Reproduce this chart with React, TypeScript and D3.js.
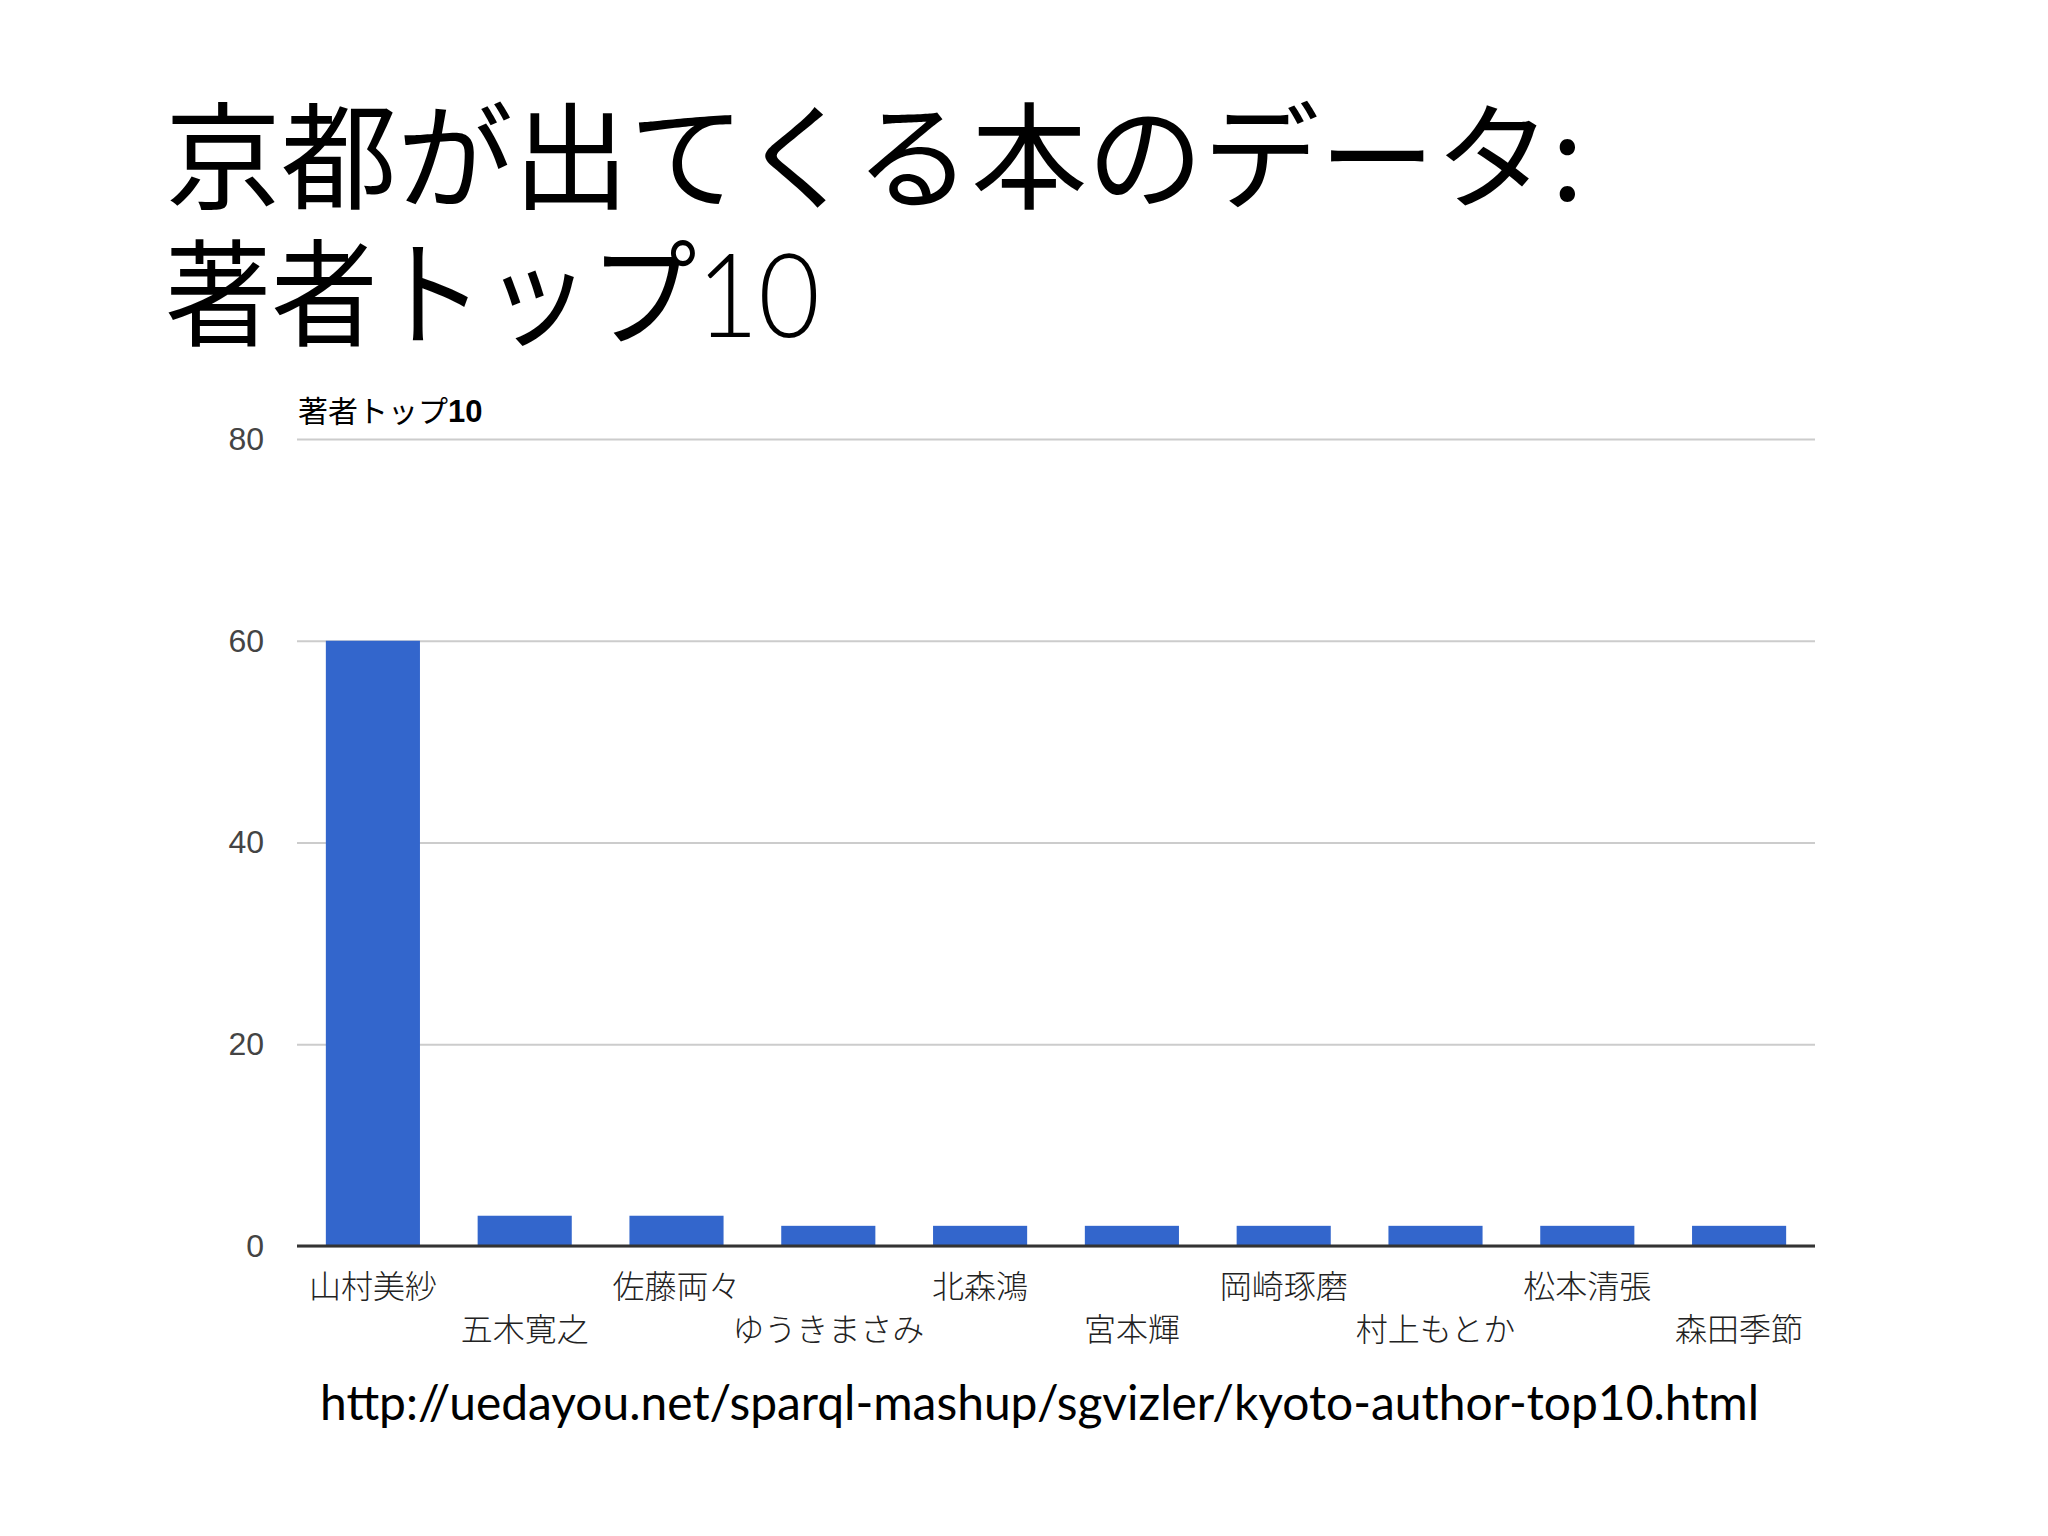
import * as d3 from "d3";
import { useEffect, useRef } from "react";

const authors = [
  "山村美紗",
  "五木寛之",
  "佐藤両々",
  "ゆうきまさみ",
  "北森鴻",
  "宮本輝",
  "岡崎琢磨",
  "村上もとか",
  "松本清張",
  "森田季節",
];
const bookCounts = [60, 3, 3, 2, 2, 2, 2, 2, 2, 2];
const yTicks = [0, 20, 40, 60, 80];

const titleLines = ["京都が出てくる本のデータ:", "著者トップ"];
const sourceUrl = "http://uedayou.net/sparql-mashup/sgvizler/kyoto-author-top10.html";

const COLORS = {
  bar: "#3366cc",
  grid: "#cccccc",
  axis: "#333333",
  tick: "#444444",
  label: "#222222",
  text: "#000000",
};

const WIDTH = 2048;
const HEIGHT = 1536;
const margin = { top: 439, right: 233, bottom: 290, left: 297 };

function renderTitle(svg: d3.Selection<SVGSVGElement, unknown, null, undefined>) {
  const font = "'Noto Sans CJK JP', 'Noto Sans', sans-serif";
  svg
    .append("text")
    .attr("x", 165)
    .attr("y", 200)
    .attr("font-family", font)
    .attr("font-size", 116)
    .attr("fill", COLORS.text)
    .text(titleLines[0]);

  // second line is narrower in the slide, squeeze it to the same width
  const line2 = svg
    .append("text")
    .attr("x", 165)
    .attr("y", 337)
    .attr("font-family", font)
    .attr("font-size", 116)
    .attr("textLength", 655)
    .attr("lengthAdjust", "spacingAndGlyphs")
    .attr("fill", COLORS.text);
  line2.append("tspan").text(titleLines[1]);
  line2
    .append("tspan")
    .attr("font-family", "Lato, 'Noto Sans', sans-serif")
    .attr("font-weight", 300)
    .attr("font-size", 116)
    .text("10");
}

export default function App() {
  const svgRef = useRef<SVGSVGElement | null>(null);

  useEffect(() => {
    if (!svgRef.current) return;
    const svg = d3.select(svgRef.current);
    svg.selectAll("*").remove();

    svg.append("rect").attr("width", WIDTH).attr("height", HEIGHT).attr("fill", "#ffffff");

    renderTitle(svg);

    const innerWidth = WIDTH - margin.left - margin.right;
    const innerHeight = HEIGHT - margin.top - margin.bottom;

    const x = d3.scaleBand<string>().domain(authors).range([0, innerWidth]).paddingInner(0.38).paddingOuter(0.19);
    const y = d3.scaleLinear().domain([0, 80]).range([innerHeight, 0]);

    const g = svg.append("g").attr("transform", `translate(${margin.left},${margin.top})`);

    // chart title
    const chartTitle = g
      .append("text")
      .attr("x", 1)
      .attr("y", -17)
      .attr("font-family", "'Noto Sans CJK JP', sans-serif")
      .attr("font-size", 30)
      .attr("fill", COLORS.text);
    chartTitle.append("tspan").text("著者トップ");
    chartTitle
      .append("tspan")
      .attr("font-family", "'Liberation Sans', Arial, sans-serif")
      .attr("font-weight", "bold")
      .attr("font-size", 31)
      .text("10");

    // gridlines + y labels
    g.append("g")
      .call(d3.axisLeft(y).tickValues(yTicks).tickSize(-innerWidth).tickPadding(33))
      .call((a) => a.select(".domain").remove())
      .call((a) => a.selectAll(".tick line").attr("stroke", COLORS.grid).attr("stroke-width", 2))
      .call((a) =>
        a
          .selectAll(".tick text")
          .attr("fill", COLORS.tick)
          .attr("font-family", "'Liberation Sans', Arial, sans-serif")
          .attr("font-size", 32)
      );

    g.selectAll("rect.bar")
      .data(bookCounts)
      .join("rect")
      .attr("class", "bar")
      .attr("x", (_, i) => x(authors[i]) as number)
      .attr("y", (d) => y(d))
      .attr("width", x.bandwidth())
      .attr("height", (d) => innerHeight - y(d))
      .attr("fill", COLORS.bar);

    // baseline
    g.append("line")
      .attr("x1", 0)
      .attr("x2", innerWidth)
      .attr("y1", y(0))
      .attr("y2", y(0))
      .attr("stroke", COLORS.axis)
      .attr("stroke-width", 3);

    // staggered category labels
    g.selectAll("text.cat")
      .data(authors)
      .join("text")
      .attr("class", "cat")
      .attr("x", (d) => (x(d) as number) + x.bandwidth() / 2)
      .attr("y", (_, i) => innerHeight + (i % 2 === 0 ? 38 : 81))
      .attr("text-anchor", "middle")
      .attr("dominant-baseline", "central")
      .attr("font-family", "'Noto Sans CJK JP', sans-serif")
      .attr("font-weight", 300)
      .attr("font-size", 32)
      .attr("fill", COLORS.label)
      .text((d) => d);

    svg
      .append("text")
      .attr("x", 320)
      .attr("y", 1420)
      .attr("font-family", "Lato, 'Open Sans', sans-serif")
      .attr("font-size", 48)
      .attr("textLength", 1439)
      .attr("lengthAdjust", "spacingAndGlyphs")
      .attr("fill", COLORS.text)
      .text(sourceUrl);
  }, []);

  return (
    <svg
      ref={svgRef}
      width={WIDTH}
      height={HEIGHT}
      viewBox={`0 0 ${WIDTH} ${HEIGHT}`}
      style={{ position: "absolute", left: 0, top: 0, display: "block" }}
    />
  );
}
